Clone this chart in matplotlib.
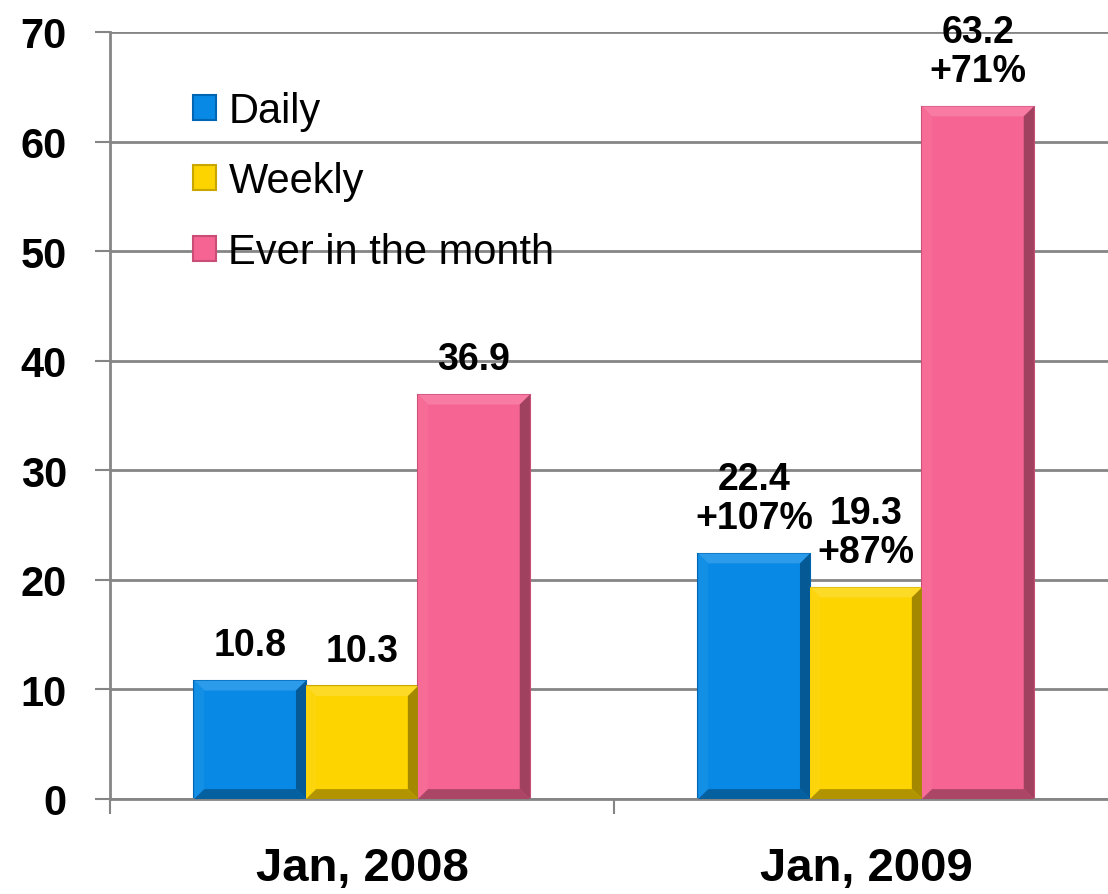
import matplotlib
matplotlib.use("Agg")
import numpy as np
import matplotlib.pyplot as plt
from matplotlib.patches import Polygon
from matplotlib.colors import to_rgb

plt.rcParams["font.family"] = ["Liberation Sans", "DejaVu Sans"]

# data
periods = ["Jan, 2008", "Jan, 2009"]
series = ["Daily", "Weekly", "Ever in the month"]
daily = [10.8, 22.4]
weekly = [10.3, 19.3]
ever = [36.9, 63.2]
growth = {"Daily": "+107%", "Weekly": "+87%", "Ever in the month": "+71%"}
y_ticks = [0, 10, 20, 30, 40, 50, 60, 70]

colors = ["#0789E5", "#FDD300", "#F56492"]
edges = ["#0066B3", "#C9A600", "#C94D75"]


def shade(c, f):
    r, g, b = to_rgb(c)
    if f < 0:
        return (r * (1 + f), g * (1 + f), b * (1 + f))
    return (r + (1 - r) * f, g + (1 - g) * f, b + (1 - b) * f)


def add_bevel(ax, bar, color, bx=0.02, by=0.9):
    x0 = bar.get_x()
    w = bar.get_width()
    h = bar.get_height()
    x1 = x0 + w
    sides = [
        ([(x0, h), (x1, h), (x1 - bx, h - by), (x0 + bx, h - by)], shade(color, 0.15)),
        ([(x0, 0), (x0, h), (x0 + bx, h - by), (x0 + bx, by)], shade(color, 0.05)),
        ([(x1, 0), (x1, h), (x1 - bx, h - by), (x1 - bx, by)], shade(color, -0.35)),
        ([(x0, 0), (x1, 0), (x1 - bx, by), (x0 + bx, by)], shade(color, -0.3)),
    ]
    for pts, c in sides:
        ax.add_patch(Polygon(pts, closed=True, facecolor=c, edgecolor="none", zorder=3))


fig = plt.figure(figsize=(11.08, 8.95), dpi=100)
ax = fig.add_axes([110 / 1108, 95 / 895, 1008 / 1108, 767 / 895])

x = np.arange(len(periods))
w = 0.222
values = [daily, weekly, ever]
containers = []
for i, (name, vals) in enumerate(zip(series, values)):
    bars = ax.bar(x + (i - 1) * w, vals, width=w, color=colors[i],
                  edgecolor=edges[i], linewidth=1.5, label=name, zorder=2)
    containers.append(bars)
    for j, b in enumerate(bars):
        add_bevel(ax, b, colors[i])
        txt = f"{vals[j]:.1f}"
        if j == 1:
            txt += "\n" + growth[name]
        ax.text(b.get_x() + b.get_width() / 2, vals[j] + 1.6, txt,
                ha="center", va="bottom", fontsize=27, fontweight="bold",
                linespacing=1.1, zorder=4, clip_on=False)

ax.set_xlim(-0.5, 1.5)
ax.set_ylim(0, 70)
ax.set_yticks(y_ticks)
ax.yaxis.grid(True, color="#858585", linewidth=2)
ax.set_axisbelow(True)

# group separators as major ticks, labels on minor ticks
ax.set_xticks([-0.5, 0.5, 1.5])
ax.set_xticklabels([])
ax.set_xticks(x, minor=True)
ax.set_xticklabels(periods, minor=True, fontsize=34, fontweight="bold")
ax.tick_params(axis="x", which="major", length=11, width=1.5, color="#858585")
ax.tick_params(axis="x", which="minor", length=0, pad=34)
ax.tick_params(axis="y", length=11, width=1.5, color="#858585", pad=20,
               labelsize=30)
for lbl in ax.get_yticklabels():
    lbl.set_fontweight("bold")

for s in ["top", "right"]:
    ax.spines[s].set_visible(False)
for s in ["left", "bottom"]:
    ax.spines[s].set_color("#858585")
    ax.spines[s].set_linewidth(2)

ax.legend(handles=containers, labels=series, loc="upper left",
          bbox_to_anchor=(193 / 1108, 1 - 92 / 895), bbox_transform=fig.transFigure,
          frameon=False, fontsize=30, handlelength=0.55, handleheight=0.55,
          handletextpad=0.3, labelspacing=0.73, borderpad=0, borderaxespad=0)

fig.savefig("out.png", dpi=100)
